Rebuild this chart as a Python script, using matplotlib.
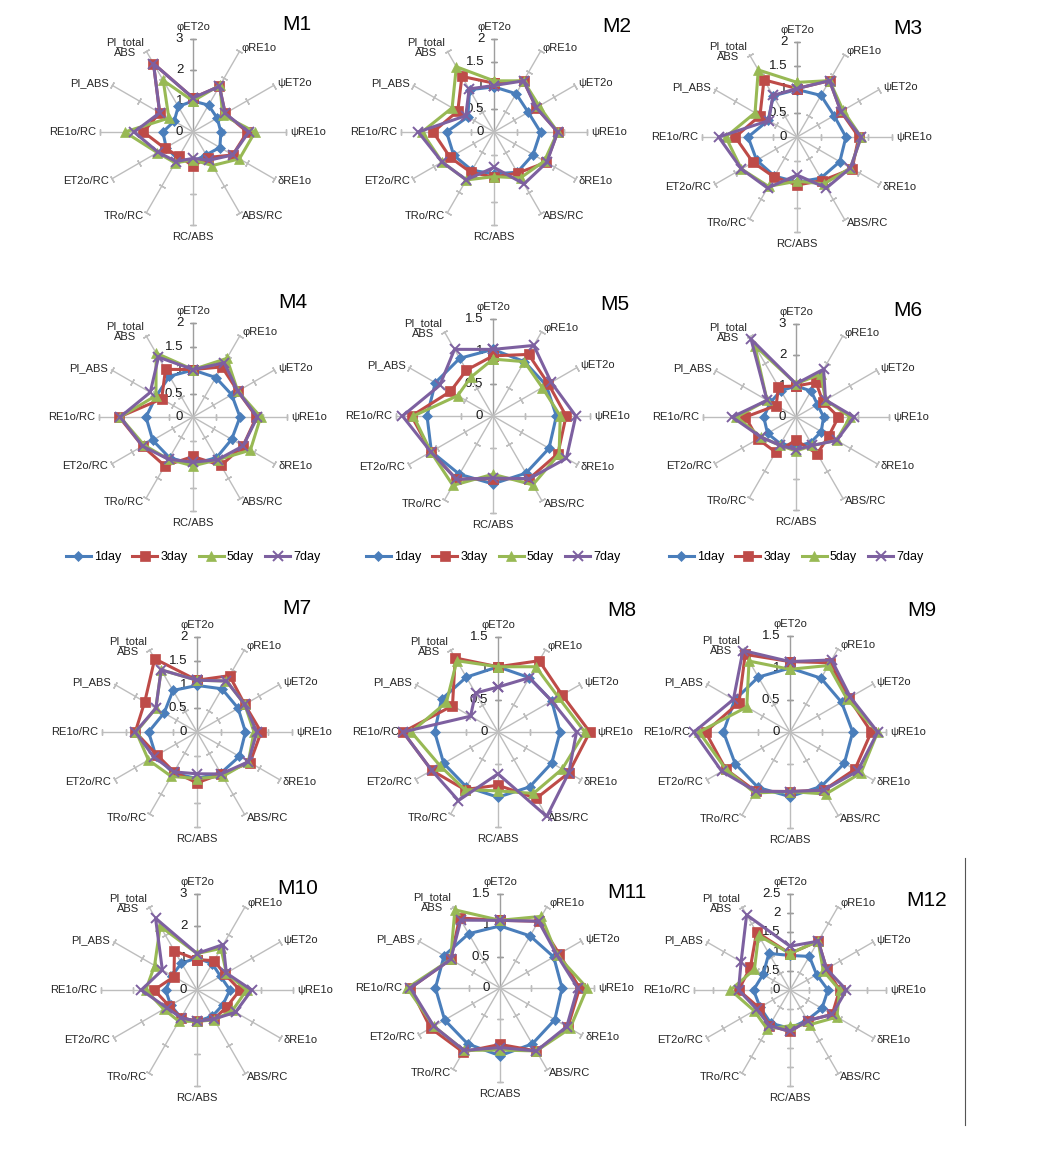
import matplotlib
matplotlib.use('Agg')
from matplotlib import pyplot as plt
from matplotlib.lines import Line2D
import numpy as np

plt.rcParams['font.family'] = ['Liberation Sans', 'DejaVu Sans']

categories = ['φET2o', 'φRE1o', 'ψET2o', 'ψRE1o', 'δRE1o', 'ABS/RC', 'RC/ABS',
              'TRo/RC', 'ET2o/RC', 'RE1o/RC', 'PI_ABS', 'PI_total\nABS']
days = ['1day', '3day', '5day', '7day']
colors = ['#4A7EBB', '#BE4B48', '#98B954', '#7D60A0']
markers = ['D', 's', '^', 'x']
msizes = [5.5, 6.5, 7, 7.5]

# values per panel, one row per day (1, 3, 5, 7), columns in category order
m1 = [[1.0, 1.0, 0.9, 0.9, 1.0, 0.85, 0.95, 1.0, 1.0, 0.97, 0.7, 0.95],
      [1.1, 1.7, 1.2, 1.75, 1.48, 0.95, 1.1, 0.9, 1.05, 1.6, 1.24, 2.55],
      [1.0, 1.75, 1.1, 2.0, 1.73, 1.25, 0.9, 1.15, 1.33, 2.2, 0.9, 1.92],
      [1.1, 1.7, 1.2, 1.8, 1.48, 1.05, 0.85, 1.1, 1.3, 1.9, 1.24, 2.55]]
m2 = [[0.97, 0.95, 0.85, 1.0, 0.97, 1.0, 0.9, 0.95, 1.0, 1.02, 0.65, 1.05],
      [1.05, 1.27, 1.05, 1.37, 1.3, 1.02, 0.97, 1.0, 1.09, 1.31, 0.9, 1.38],
      [1.1, 1.27, 1.12, 1.37, 1.25, 1.14, 0.96, 1.19, 1.29, 1.55, 1.04, 1.62],
      [1.0, 1.27, 1.05, 1.37, 1.31, 1.29, 0.76, 1.19, 1.29, 1.63, 0.7, 1.07]]
m3 = [[1.0, 1.01, 0.9, 1.03, 1.04, 1.0, 0.95, 0.95, 0.98, 1.03, 0.7, 1.0],
      [1.02, 1.37, 1.07, 1.3, 1.34, 1.06, 1.01, 0.97, 1.07, 1.3, 0.9, 1.39],
      [1.15, 1.37, 1.12, 1.35, 1.3, 1.14, 0.93, 1.2, 1.35, 1.5, 1.02, 1.63],
      [1.02, 1.37, 1.07, 1.35, 1.3, 1.24, 0.8, 1.24, 1.35, 1.65, 0.69, 1.01]]
m4 = [[1.0, 0.97, 0.95, 1.0, 0.95, 1.0, 1.0, 1.0, 0.99, 1.0, 0.9, 1.0],
      [1.01, 1.23, 1.1, 1.35, 1.23, 1.19, 0.84, 1.2, 1.24, 1.57, 0.77, 1.17],
      [1.01, 1.44, 1.1, 1.44, 1.41, 1.05, 1.04, 1.04, 1.2, 1.55, 0.91, 1.57],
      [1.01, 1.33, 1.1, 1.37, 1.23, 1.05, 0.96, 1.04, 1.24, 1.55, 1.05, 1.47]]
m5 = [[1.03, 0.97, 0.95, 0.98, 1.0, 1.02, 1.05, 1.04, 1.1, 1.02, 1.03, 1.03],
      [0.93, 1.1, 0.99, 1.13, 1.16, 1.12, 0.97, 1.13, 1.11, 1.26, 0.76, 0.82],
      [0.88, 0.97, 0.88, 1.04, 1.18, 1.23, 0.9, 1.24, 1.11, 1.23, 0.63, 0.69],
      [1.03, 1.26, 1.04, 1.28, 1.31, 1.12, 0.96, 1.13, 1.11, 1.4, 0.95, 1.19]]
m6 = [[1.0, 0.97, 0.8, 0.89, 0.94, 0.95, 0.95, 1.0, 1.06, 1.04, 0.95, 0.98],
      [1.0, 1.29, 1.0, 1.37, 1.22, 1.37, 0.75, 1.31, 1.42, 1.63, 0.74, 1.13],
      [1.07, 1.6, 1.1, 1.75, 1.51, 1.06, 1.1, 1.05, 1.3, 1.92, 1.08, 2.66],
      [1.07, 1.78, 1.1, 1.88, 1.51, 1.06, 1.05, 1.05, 1.3, 2.06, 1.08, 2.9]]
m7 = [[0.98, 1.05, 1.0, 1.02, 1.03, 1.0, 0.98, 1.0, 1.0, 1.02, 0.8, 1.01],
      [1.09, 1.37, 1.16, 1.35, 1.29, 1.02, 1.07, 0.97, 0.97, 1.3, 1.27, 1.78],
      [1.09, 1.24, 1.16, 1.2, 1.25, 1.08, 0.98, 1.08, 1.18, 1.28, 1.0, 1.51],
      [1.09, 1.24, 1.16, 1.26, 1.25, 1.02, 0.88, 0.97, 1.05, 1.3, 1.0, 1.51]]
m8 = [[1.03, 0.99, 0.98, 0.98, 0.98, 1.0, 1.03, 1.0, 0.99, 1.0, 1.03, 1.0],
      [1.03, 1.3, 1.17, 1.45, 1.29, 1.21, 0.84, 1.05, 1.21, 1.5, 0.83, 1.35],
      [1.03, 1.19, 1.1, 1.37, 1.17, 1.12, 0.93, 1.05, 1.06, 1.37, 0.94, 1.3],
      [0.71, 0.99, 0.98, 1.24, 1.29, 1.54, 0.66, 1.25, 1.21, 1.5, 0.5, 0.71]]
m9 = [[1.0, 0.97, 0.93, 0.98, 0.98, 0.98, 1.01, 1.0, 0.99, 1.04, 1.0, 0.99],
      [1.1, 1.25, 1.06, 1.27, 1.17, 1.05, 0.93, 1.07, 1.16, 1.32, 0.92, 1.4],
      [0.98, 1.2, 1.03, 1.37, 1.28, 1.12, 0.93, 1.1, 1.16, 1.42, 0.78, 1.28],
      [1.1, 1.3, 1.09, 1.37, 1.22, 1.05, 0.93, 1.07, 1.23, 1.5, 1.02, 1.47]]
m10 = [[1.0, 0.95, 0.85, 1.03, 0.93, 0.95, 0.98, 1.0, 0.95, 0.98, 0.9, 0.97],
       [0.95, 1.06, 1.0, 1.34, 1.07, 1.05, 0.98, 1.0, 1.0, 1.34, 0.83, 1.41],
       [1.14, 1.5, 1.06, 1.55, 1.28, 1.08, 0.98, 1.13, 1.2, 1.6, 1.53, 2.3],
       [1.14, 1.64, 1.06, 1.71, 1.39, 1.05, 0.98, 1.0, 1.1, 1.74, 1.25, 2.59]]
m11 = [[0.99, 0.96, 0.99, 0.99, 1.01, 1.03, 1.08, 1.03, 1.02, 1.03, 1.03, 1.0],
       [1.08, 1.23, 1.09, 1.27, 1.25, 1.16, 0.9, 1.18, 1.28, 1.43, 0.91, 1.29],
       [1.08, 1.32, 1.05, 1.39, 1.29, 1.16, 0.99, 1.15, 1.22, 1.48, 0.91, 1.44],
       [1.08, 1.23, 1.05, 1.24, 1.23, 1.16, 0.95, 1.15, 1.22, 1.43, 0.91, 1.25]]
m12 = [[0.9, 1.01, 0.8, 0.99, 0.96, 0.9, 1.0, 1.0, 0.9, 0.95, 0.81, 1.1],
       [0.95, 1.47, 1.1, 1.29, 1.27, 0.92, 1.08, 1.07, 0.93, 1.34, 1.19, 1.74],
       [0.95, 1.47, 1.0, 1.29, 1.41, 1.04, 0.93, 1.18, 1.08, 1.55, 1.07, 1.64],
       [1.14, 1.47, 1.1, 1.47, 1.27, 0.92, 1.08, 1.07, 1.0, 1.34, 1.47, 2.26]]

panel_names = ['M1', 'M2', 'M3', 'M4', 'M5', 'M6', 'M7', 'M8', 'M9', 'M10', 'M11', 'M12']
panel_values = [m1, m2, m3, m4, m5, m6, m7, m8, m9, m10, m11, m12]
axis_max = [3, 2, 2, 2, 1.5, 3, 2, 1.5, 1.5, 3, 1.5, 2.5]
axis_step = [1, 0.5, 0.5, 0.5, 0.5, 1, 0.5, 0.5, 0.5, 1, 0.5, 0.5]

# layout in pixels: centre x, centre y, radius; title position
W, H = 1063, 1171
centres = [(193, 132, 93), (494, 132, 93), (797, 137, 95),
           (193, 417, 94), (493, 416, 97), (796, 417, 93),
           (197, 732, 95), (498, 732, 95), (790, 732, 96),
           (197, 990, 96), (500, 988, 94), (790, 990, 96)]
title_pos = [(297, 25), (617, 27), (908, 28),
             (293, 302), (615, 305), (908, 311),
             (297, 608), (622, 610), (922, 610),
             (298, 888), (627, 892), (927, 900)]
legend_panels = [3, 4, 5]
legend_y = 557

fig = plt.figure(figsize=(W / 100, H / 100), dpi=100)
theta = np.arange(12) * 2 * np.pi / 12
spoke_col = '#BDBDBD'

for i in range(12):
    cx, cy, R = centres[i]
    rmax = axis_max[i]
    ax = fig.add_axes([(cx - R) / W, 1 - (cy + R) / H, 2 * R / W, 2 * R / H],
                      projection='polar')
    ax.set_theta_zero_location('N')
    ax.set_theta_direction(-1)
    ax.set_ylim(0, rmax)
    ax.axis('off')

    rr = np.arange(axis_step[i], rmax + 1e-9, axis_step[i])
    for k, t in enumerate(theta):
        c = '#9E9E9E' if k == 0 else spoke_col
        ax.plot([t, t], [0, rmax], color=c, lw=1.0, zorder=1, clip_on=False)
        ax.plot([t] * len(rr), rr, ls='none', marker=(2, 2, 90 - np.degrees(t)),
                ms=5, mec=c, mew=1.0, zorder=1, clip_on=False)

        s, co = np.sin(t), np.cos(t)
        ha = 'left' if s > 0.1 else ('right' if s < -0.1 else 'center')
        va = 'bottom' if co > 0.9 else ('top' if co < -0.9 else 'center')
        d = 5 if abs(co) > 0.9 else 3
        ax.annotate(categories[k], xy=(t, rmax), xytext=(d * s, d * co),
                    textcoords='offset points', ha=ha, va=va, fontsize=8,
                    color='#262626', multialignment='center', linespacing=1.1)

    for r in np.append(0, rr):
        ax.annotate(f'{r:g}', xy=(0, r), xytext=(-7, 0), textcoords='offset points',
                    ha='right', va='center', fontsize=9.5, color='#1a1a1a')

    vals = panel_values[i]
    for j in range(4):
        v = np.array(vals[j])
        ax.plot(np.append(theta, theta[0]), np.append(v, v[0]), color=colors[j],
                lw=2.2, marker=markers[j], ms=msizes[j], mew=1.4 if j == 3 else 0.5,
                zorder=3 + j, clip_on=False)

    fig.text(title_pos[i][0] / W, 1 - title_pos[i][1] / H, panel_names[i],
             fontsize=15, ha='center', va='center')

    if i in legend_panels:
        handles = [Line2D([], [], color=colors[j], lw=2.2, marker=markers[j],
                          ms=msizes[j], mew=1.4 if j == 3 else 0.5) for j in range(4)]
        fig.legend(handles, days, loc='center', bbox_to_anchor=(cx / W, 1 - legend_y / H),
                   ncol=4, frameon=False, fontsize=9, handlelength=2.0,
                   handletextpad=0.25, columnspacing=0.9)

fig.add_artist(Line2D([965 / W, 965 / W], [1 - 858 / H, 1 - 1125 / H],
                      color='#555555', lw=0.8))

fig.savefig('out.png', dpi=100, facecolor='white')
